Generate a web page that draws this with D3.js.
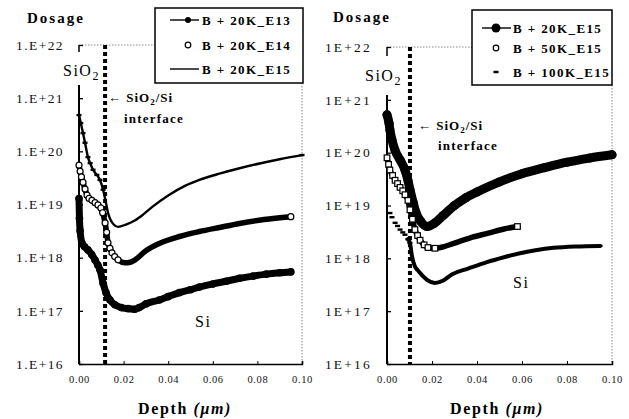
<!DOCTYPE html>
<html><head><meta charset="utf-8">
<script src="https://cdn.jsdelivr.net/npm/d3@7"></script>
<style>body{margin:0;background:#fff}svg{display:block} text{font-family:"Liberation Serif","Times New Roman",Times,"DejaVu Serif",serif;}</style>
</head><body>
<script>
// ---------- data ----------
const yTickValues = [1e16, 1e17, 1e18, 1e19, 1e20, 1e21, 1e22];
const leftYTickLabels = ["1.E+16","1.E+17","1.E+18","1.E+19","1.E+20","1.E+21","1.E+22"];
const rightYTickLabels = ["1E+16","1E+17","1E+18","1E+19","1E+20","1E+21","1E+22"];
const xTickValues = [0, 0.02, 0.04, 0.06, 0.08, 0.10];
const xTickLabels = ["0.00","0.02","0.04","0.06","0.08","0.10"];
const leftSeriesNames = ["B + 20K_E13", "B + 20K_E14", "B + 20K_E15"];
const rightSeriesNames = ["B + 20K_E15", "B + 50K_E15", "B + 100K_E15"];
const leftInterfaceDepth = 0.0117;
const rightInterfaceDepth = 0.0102;

// depth (um), dosage
const left_E13 = [[0.0000,1.3e19],[0.0002,5.5e18],[0.0005,3.2e18],[0.0013,1.9e18],[0.0025,1.6e18],[0.004,1.4e18],[0.0057,1.15e18],[0.0072,9e17],[0.0085,7.2e17],[0.0094,5.9e17],[0.0108,3.3e17],[0.0121,2.2e17],[0.0139,1.6e17],[0.0161,1.3e17],[0.019,1.15e17],[0.022,1.1e17],[0.025,1.07e17],[0.027,1.15e17],[0.030,1.35e17],[0.036,1.6e17],[0.040,1.85e17],[0.045,2.2e17],[0.050,2.5e17],[0.054,2.8e17],[0.060,3.2e17],[0.066,3.6e17],[0.072,4.1e17],[0.078,4.5e17],[0.084,4.9e17],[0.090,5.2e17],[0.095,5.4e17]];
const left_E14 = [[0.0000,5.5e19],[0.0005,4.2e19],[0.0011,3.3e19],[0.0018,2.6e19],[0.0027,1.95e19],[0.0036,1.5e19],[0.0045,1.3e19],[0.0058,1.2e19],[0.0072,1.08e19],[0.0085,9.8e18],[0.0098,8.6e18],[0.0106,7e18],[0.0117,4.5e18],[0.0124,3e18],[0.013,1.9e18],[0.0139,1.5e18],[0.0148,1.23e18],[0.016,1.05e18],[0.0175,9.1e17],[0.0206,8e17],[0.023,8.2e17],[0.025,9e17],[0.030,1.35e18],[0.036,1.85e18],[0.045,2.5e18],[0.054,3.1e18],[0.063,3.7e18],[0.072,4.4e18],[0.083,5.2e18],[0.095,5.9e18]];
const left_E15 = [[0.0000,4.8e20],[0.0008,3.4e20],[0.0018,2.2e20],[0.0027,1.45e20],[0.004,7.8e19],[0.005,6e19],[0.0063,4.5e19],[0.008,3.6e19],[0.0094,2.9e19],[0.0108,1.9e19],[0.0117,1.3e19],[0.013,7e18],[0.0148,4.6e18],[0.0176,3.8e18],[0.021,4.2e18],[0.025,5e18],[0.029,6.6e18],[0.033,9.1e18],[0.040,1.48e19],[0.0475,2.24e19],[0.054,2.9e19],[0.063,3.8e19],[0.072,4.8e19],[0.081,5.9e19],[0.090,7.1e19],[0.100,8.5e19]];

const right_20K = [[0.0000,5.2e20],[0.0009,3.6e20],[0.0013,2.7e20],[0.0022,1.75e20],[0.0036,1.1e20],[0.0058,7.3e19],[0.008,4.7e19],[0.0093,3e19],[0.0102,2e19],[0.0116,1.15e19],[0.0129,7.3e18],[0.015,5e18],[0.0178,4e18],[0.021,4.6e18],[0.025,6.5e18],[0.030,1e19],[0.035,1.4e19],[0.040,1.8e19],[0.050,2.8e19],[0.060,4e19],[0.070,5.2e19],[0.080,6.6e19],[0.090,7.9e19],[0.100,9.1e19]];
const right_50K = [[0.0000,8e19],[0.0007,6e19],[0.0013,4.7e19],[0.0025,3.7e19],[0.0036,3e19],[0.0047,2.6e19],[0.0058,2.2e19],[0.007,1.9e19],[0.008,1.6e19],[0.0093,1.25e19],[0.0102,8.3e18],[0.0113,5.5e18],[0.0124,3.5e18],[0.0136,2.7e18],[0.0147,2.2e18],[0.0165,1.8e18],[0.0182,1.6e18],[0.0213,1.55e18],[0.025,1.65e18],[0.0293,1.9e18],[0.037,2.45e18],[0.045,3e18],[0.052,3.6e18],[0.058,4e18]];
const right_100K = [[0.0013,7.2e18],[0.0022,6e18],[0.0036,4.7e18],[0.0047,4.1e18],[0.0058,3.5e18],[0.007,3.1e18],[0.008,2.8e18],[0.0093,2.3e18],[0.0102,1.95e18],[0.0111,1.1e18],[0.0124,7e17],[0.0136,6e17],[0.0147,5.3e17],[0.0162,4.5e17],[0.0178,3.9e17],[0.0213,3.4e17],[0.025,3.8e17],[0.029,5e17],[0.036,6.4e17],[0.0444,8.5e17],[0.052,1.05e18],[0.0591,1.25e18],[0.066,1.42e18],[0.074,1.58e18],[0.084,1.68e18],[0.0947,1.72e18]];

// ---------- drawing ----------
const W = 629, H = 419;
const serif = "'Liberation Serif', 'Times New Roman', Times, 'DejaVu Serif', serif";
const svg = d3.select("body").append("svg").attr("width", W).attr("height", H)
  .attr("font-family", serif);

function panel(cfg) {
  const x = d3.scaleLinear().domain([0, 0.1]).range([cfg.x0, cfg.x1]);
  const y = d3.scaleLog().domain([1e16, 1e22]).range([cfg.yBot, cfg.yTop]);
  const g = svg.append("g");

  // frame: dotted top and right
  g.append("line").attr("x1", x(0)).attr("x2", cfg.legend.x).attr("y1", y(1e22)).attr("y2", y(1e22))
    .attr("stroke", "#888").attr("stroke-width", 1).attr("stroke-dasharray", "1.5,1.5");
  g.append("line").attr("x1", x(0.1)).attr("x2", x(0.1)).attr("y1", cfg.legend.y + cfg.legend.h).attr("y2", y(1e16))
    .attr("stroke", "#888").attr("stroke-width", 1).attr("stroke-dasharray", "1.5,1.5");

  // y axis
  const ya = g.append("g").attr("transform", `translate(${x(0)},0)`)
    .call(d3.axisLeft(y).tickValues(yTickValues).tickFormat((d, i) => cfg.yLabels[i])
      .tickSize(-4).tickPadding(15));
  ya.attr("font-family", serif);
  ya.select(".domain").remove();
  ya.selectAll("line").attr("stroke", "#000").attr("stroke-width", 1.3);
  ya.selectAll("text").attr("font-family", serif).style("font-size", "13.5px")
    .style("letter-spacing", cfg.labelSpacing).attr("fill", "#111");
  // y axis line, broken by the SiO2 label
  g.append("line").attr("x1", x(0)).attr("x2", x(0)).attr("y1", y(1e22)).attr("y2", cfg.breakTop)
    .attr("stroke", "#000").attr("stroke-width", 1.5);
  g.append("line").attr("x1", x(0)).attr("x2", x(0)).attr("y1", cfg.breakBottom).attr("y2", y(1e16))
    .attr("stroke", "#000").attr("stroke-width", 2);

  // x axis
  const xa = g.append("g").attr("transform", `translate(0,${y(1e16)})`)
    .call(d3.axisBottom(x).tickValues(xTickValues).tickFormat((d, i) => xTickLabels[i])
      .tickSize(-3).tickPadding(12));
  xa.attr("font-family", serif);
  xa.select(".domain").attr("stroke", "#000").attr("stroke-width", 1.6);
  xa.selectAll("line").attr("stroke", "#000");
  xa.selectAll("text").attr("font-family", serif).style("font-size", "10.5px")
    .style("letter-spacing", "0.6px").attr("fill", "#111");

  // interface dotted line
  g.append("line").attr("x1", x(cfg.iface)).attr("x2", x(cfg.iface))
    .attr("y1", y(1e22)).attr("y2", y(1e16))
    .attr("stroke", "#000").attr("stroke-width", 4).attr("stroke-dasharray", "4,3");

  const line = d3.line().x(d => x(d[0])).y(d => y(d[1])).curve(d3.curveMonotoneX);

  cfg.series.forEach(s => {
    const pathData = s.pathFrom !== undefined ? s.data.filter(d => d[0] >= s.pathFrom) : s.data;
    g.append("path").datum(pathData).attr("d", line).attr("fill", "none")
      .attr("stroke", "#000").attr("stroke-width", s.width).attr("stroke-linejoin", "round").attr("stroke-linecap", "round");
    const pts = s.markerUntil !== undefined
      ? s.data.filter((d, i) => d[0] <= s.markerUntil || i === s.data.length - 1) : s.data;
    if (s.marker === "dot") {
      g.selectAll(null).data(pts).join("circle").attr("cx", d => x(d[0])).attr("cy", d => y(d[1]))
        .attr("r", s.r).attr("fill", "#000");
    } else if (s.marker === "open") {
      g.selectAll(null).data(pts).join("circle").attr("cx", d => x(d[0])).attr("cy", d => y(d[1]))
        .attr("r", s.r).attr("fill", "#fff").attr("stroke", "#000").attr("stroke-width", 1.2);
    } else if (s.marker === "square") {
      g.selectAll(null).data(pts).join("rect").attr("x", d => x(d[0]) - s.r).attr("y", d => y(d[1]) - s.r)
        .attr("width", 2 * s.r).attr("height", 2 * s.r)
        .attr("fill", "#fff").attr("stroke", "#000").attr("stroke-width", 1.2);
    } else if (s.marker === "dash") {
      g.selectAll(null).data(pts).join("rect").attr("x", d => x(d[0]) - 2.5).attr("y", d => y(d[1]) - 1.2)
        .attr("width", 5).attr("height", 2.4).attr("fill", "#000");
    }
  });

  // legend
  const L = cfg.legend;
  g.append("rect").attr("x", L.x).attr("y", L.y).attr("width", L.w).attr("height", L.h)
    .attr("fill", "#fff").attr("stroke", "#000").attr("stroke-width", 1.5);
  cfg.names.forEach((n, i) => {
    const yy = L.rows[i];
    const s = cfg.series[i];
    if (s.legendLine) {
      g.append("line").attr("x1", L.lx0).attr("x2", L.lx1).attr("y1", yy).attr("y2", yy)
        .attr("stroke", "#000").attr("stroke-width", 1.4);
    }
    if (s.marker === "dot" && s.legendLine) {
      g.append("circle").attr("cx", L.mx).attr("cy", yy).attr("r", s.legendR).attr("fill", "#000");
    } else if (s.marker === "open" || s.marker === "square") {
      g.append("circle").attr("cx", L.mx).attr("cy", yy).attr("r", 2.8)
        .attr("fill", "#fff").attr("stroke", "#000").attr("stroke-width", 1.2);
    } else if (s.marker === "dash" && !s.legendLine) {
      g.append("rect").attr("x", L.mx - 2.5).attr("y", yy - 1.2).attr("width", 5).attr("height", 2.4).attr("fill", "#000");
    }
    g.append("text").attr("x", L.tx).attr("y", yy + 4.5).text(n).attr("font-family", serif)
      .style("font-size", "13px").style("font-weight", "bold").style("letter-spacing", "1.4px");
  });

  // labels
  g.append("text").attr("x", cfg.dosage[0]).attr("y", cfg.dosage[1]).text("Dosage").attr("font-family", serif)
    .style("font-size", "15px").style("font-weight", "bold").style("letter-spacing", "2px");
  const sio = g.append("text").attr("x", cfg.sio2[0]).attr("y", cfg.sio2[1]).attr("font-family", serif)
    .style("font-size", "16px").style("letter-spacing", "1.5px");
  sio.append("tspan").text("SiO");
  sio.append("tspan").text("2").attr("dy", 4).style("font-size", "12px");

  const ar = g.append("text").attr("x", cfg.arrow[0]).attr("y", cfg.arrow[1]).attr("font-family", serif)
    .style("font-size", "13px").style("font-weight", "bold").style("letter-spacing", "1px");
  ar.append("tspan").text("\u2190 SiO");
  ar.append("tspan").text("2").attr("dy", 3).style("font-size", "9px");
  ar.append("tspan").text("/Si").attr("dy", -3);
  g.append("text").attr("x", cfg.iface2[0]).attr("y", cfg.iface2[1]).text("interface").attr("font-family", serif)
    .style("font-size", "13px").style("font-weight", "bold").style("letter-spacing", "1.2px");

  g.append("text").attr("x", cfg.si[0]).attr("y", cfg.si[1]).text("Si").attr("font-family", serif)
    .style("font-size", "16px").style("letter-spacing", "1.5px");

  const dl = g.append("text").attr("x", cfg.depth[0]).attr("y", cfg.depth[1]).attr("text-anchor", "middle")
    .attr("font-family", serif)
    .style("font-size", "16px").style("font-weight", "bold").style("letter-spacing", "1.6px");
  dl.append("tspan").text("Depth ");
  dl.append("tspan").text("(\u03bcm)").style("font-style", "italic");
}

panel({
  x0: 79, x1: 302, yTop: 45, yBot: 364, iface: leftInterfaceDepth,
  yLabels: leftYTickLabels, labelSpacing: "1.4px", breakTop: 52, breakBottom: 85,
  names: leftSeriesNames,
  series: [
    { data: left_E13, width: 7, marker: "dot", r: 3.8, legendLine: true, legendR: 3 },
    { data: left_E14, width: 5.5, marker: "open", r: 3, markerUntil: 0.0175 },
    { data: left_E15, width: 2.4, marker: "dash", markerUntil: 0.0108, legendLine: true }
  ],
  legend: { x: 155, y: 8, w: 148, h: 75, rows: [20, 45, 69], lx0: 170, lx1: 199, mx: 188, tx: 202 },
  dosage: [27, 23], sio2: [63, 76], arrow: [108, 102], iface2: [124, 123], si: [195, 327],
  depth: [185, 414]
});

panel({
  x0: 387, x1: 612, yTop: 47, yBot: 364, iface: rightInterfaceDepth,
  yLabels: rightYTickLabels, labelSpacing: "2.2px", breakTop: 56, breakBottom: 95,
  names: rightSeriesNames,
  series: [
    { data: right_20K, width: 9, marker: "dot", r: 4.5, legendLine: true, legendR: 4.5 },
    { data: right_50K, width: 5.5, marker: "square", r: 2.8, markerUntil: 0.0213 },
    { data: right_100K, width: 4, marker: "dash", markerUntil: 0.0102, pathFrom: 0.0093 }
  ],
  legend: { x: 472, y: 10, w: 140, h: 75, rows: [28, 48, 72], lx0: 482, lx1: 511, mx: 496, tx: 513 },
  dosage: [333, 22], sio2: [365, 81], arrow: [418, 130], iface2: [438, 150], si: [513, 288],
  depth: [497, 414]
});
</script>
</body></html>
